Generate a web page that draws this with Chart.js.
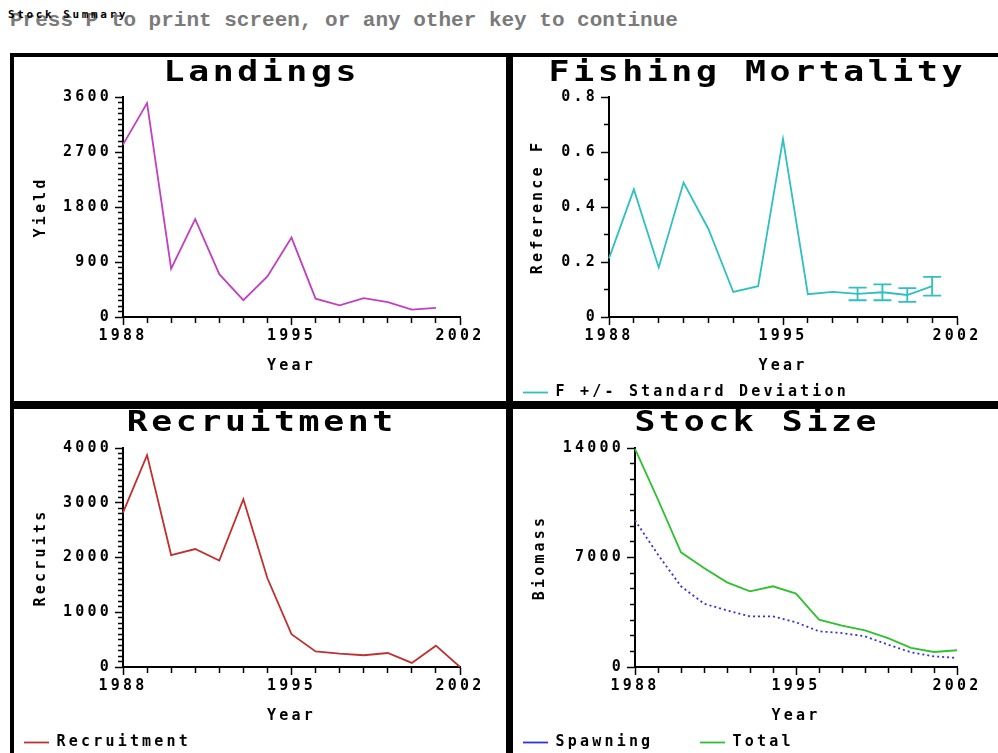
<!DOCTYPE html>
<html>
<head>
<meta charset="utf-8">
<title>Stock Summary</title>
<script src="https://cdn.jsdelivr.net/npm/chart.js@4.4.1/dist/chart.umd.min.js"></script>
<style>
  html, body { margin: 0; padding: 0; background: #fff; }
  body { width: 998px; height: 753px; position: relative; overflow: hidden; }
  #prompt { position: absolute; left: 10px; top: 7px; font: bold 21px/28px 'Liberation Mono', monospace; color: #7a7a7a; white-space: pre; }
  #caption { position: absolute; left: 8px; top: 9px; font: bold 11px/11px 'DejaVu Sans Mono', monospace; letter-spacing: 2.6px; color: #000; white-space: pre; }
  #frame { position: absolute; left: 10px; top: 53px; right: 0; bottom: 0; background: #000; }
  .panel { position: absolute; background: #fff; overflow: hidden; }
  .panel h2 { position: absolute; left: 0; right: 0; top: 0; margin: 0; text-align: center;
              font: bold 29px/29px 'DejaVu Sans Mono', monospace; letter-spacing: 3px; padding-left: 3px;
              transform: scaleX(1.2); transform-origin: center; }
  .panel.low h2 { top: -2px; }
  .panel canvas { position: absolute; left: 0; top: 0; }
</style>
</head>
<body>
<div id="prompt">Press P to print screen, or any other key to continue</div>
<div id="caption">Stock Summary</div>
<div id="frame"></div>

<div class="panel" style="left:14px; top:57px; width:492px; height:344px;">
  <canvas id="landings" width="492" height="344"></canvas>
  <h2>Landings</h2>
</div>
<div class="panel" style="left:513px; top:57px; width:485px; height:344px;">
  <canvas id="mortality" width="485" height="344"></canvas>
  <h2>Fishing Mortality</h2>
</div>
<div class="panel low" style="left:14px; top:409px; width:492px; height:344px;">
  <canvas id="recruitment" width="492" height="344"></canvas>
  <h2>Recruitment</h2>
</div>
<div class="panel low" style="left:513px; top:409px; width:485px; height:344px;">
  <canvas id="stock" width="485" height="344"></canvas>
  <h2>Stock Size</h2>
</div>

<script>
// === DATA ===
const years         = [1988, 1989, 1990, 1991, 1992, 1993, 1994, 1995, 1996, 1997, 1998, 1999, 2000, 2001, 2002];
const yearTicks     = [1988, 1995, 2002];

const landings      = [2820, 3500, 790, 1600, 700, 275, 665, 1300, 300, 190, 310, 245, 120, 150, null];
const landingsTicks = [0, 900, 1800, 2700, 3600];

const fishingF      = [0.213, 0.464, 0.18, 0.489, 0.32, 0.091, 0.112, 0.647, 0.083, 0.091, 0.084, 0.09, 0.08, 0.112, null];
const fishingSD     = [null, null, null, null, null, null, null, null, null, null, 0.023, 0.029, 0.025, 0.034, null];
const fTicks        = [0, 0.2, 0.4, 0.6, 0.8];

const recruits      = [2820, 3870, 2045, 2155, 1945, 3065, 1620, 600, 285, 245, 215, 255, 75, 390, 0];
const recruitTicks  = [0, 1000, 2000, 3000, 4000];

const spawningBiomass = [9380, 7180, 5160, 4050, 3620, 3240, 3240, 2860, 2280, 2170, 1960, 1430, 940, 680, 580];
const totalBiomass    = [13950, 10700, 7330, 6330, 5410, 4840, 5160, 4690, 3030, 2640, 2340, 1850, 1220, 960, 1070];
const biomassTicks    = [0, 7000, 14000];

// === SHARED LOOK ===
Chart.defaults.font.family = "'DejaVu Sans Mono', monospace";
Chart.defaults.font.size = 15;
Chart.defaults.font.weight = 'bold';
Chart.defaults.color = '#000';
Chart.defaults.animation = false;

const LETTER_SPACING = '3.2px';

// wide DOS-style lettering; canvas state is reset on resize so set it every pass
const wideText = {
  id: 'wideText',
  beforeLayout(chart) { chart.ctx.letterSpacing = LETTER_SPACING; },
  beforeDraw(chart)   { chart.ctx.letterSpacing = LETTER_SPACING; }
};

// +/- standard deviation whiskers on the first dataset
const errorBars = {
  id: 'errorBars',
  afterDatasetsDraw(chart, args, opts) {
    const {ctx, scales: {x, y}} = chart;
    const values = chart.data.datasets[0].data;
    ctx.save();
    ctx.strokeStyle = opts.color;
    ctx.lineWidth = 1.8;
    opts.sd.forEach((sd, i) => {
      if (sd == null) return;
      const px  = x.getPixelForValue(i);
      const top = y.getPixelForValue(values[i] + sd);
      const bot = y.getPixelForValue(values[i] - sd);
      ctx.beginPath();
      ctx.moveTo(px, top);     ctx.lineTo(px, bot);
      ctx.moveTo(px - 9, top); ctx.lineTo(px + 9, top);
      ctx.moveTo(px - 9, bot); ctx.lineTo(px + 9, bot);
      ctx.stroke();
    });
    ctx.restore();
  }
};

const near = (a, b) => Math.abs(a - b) < 1e-6;

// x axis: a tick every year, long ticks + labels only on 1988/1995/2002
function yearAxis() {
  const major = i => yearTicks.includes(years[i]);
  return {
    type: 'category',
    offset: false,
    title: { display: true, text: 'Year', padding: 0 },
    border: { display: true, color: '#000', width: 2 },
    grid: {
      drawOnChartArea: false, color: '#000', tickLength: 8, tickWidth: 1.5,
      tickBorderDash: c => major(c.index) ? [] : [5, 3]
    },
    ticks: {
      autoSkip: false, maxRotation: 0, padding: 2,
      callback: (v, i) => major(i) ? String(years[i]) : ''
    },
    afterFit: s => { s.height = 58; }
  };
}

// y axis: minor ticks every `minor`, long ticks + labels on the tick list
function valueAxis(text, ticks, minor, format, width, titlePad) {
  const major = v => ticks.some(t => near(t, v));
  return {
    min: 0,
    max: ticks[ticks.length - 1],
    title: { display: true, text, padding: { top: titlePad, bottom: 0 } },
    border: { display: true, color: '#000', width: 2 },
    grid: {
      drawOnChartArea: false, color: '#000', tickLength: 8, tickWidth: 1.5,
      tickBorderDash: c => major(c.tick.value) ? [] : [5, 3],
      tickBorderDashOffset: c => major(c.tick.value) ? 0 : 5
    },
    ticks: {
      stepSize: minor, autoSkip: false, padding: 3,
      callback: v => major(v) ? format(v) : ''
    },
    afterFit: s => { s.width = width; }
  };
}

function lineSet(label, data, color, dash) {
  return {
    label, data,
    borderColor: color, backgroundColor: color,
    borderWidth: 1.8, borderDash: dash || [],
    pointRadius: 0, tension: 0, fill: false
  };
}

function legendOpts(extra) {
  return Object.assign({
    display: true, position: 'bottom', align: 'start',
    labels: { usePointStyle: true, pointStyle: 'line', pointStyleWidth: 25, padding: 10 }
  }, extra || {});
}

// === LANDINGS ===
new Chart(document.getElementById('landings'), {
  type: 'line',
  data: { labels: years, datasets: [lineSet('Landings', landings, '#c040c0')] },
  options: {
    responsive: false,
    layout: { padding: { left: 0, top: 40, right: 46, bottom: 26 } },
    scales: {
      x: yearAxis(),
      y: valueAxis('Yield', landingsTicks, 90, v => String(v), 109, 18)
    },
    plugins: { legend: { display: false }, tooltip: { enabled: false } }
  },
  plugins: [wideText]
});

// === FISHING MORTALITY ===
new Chart(document.getElementById('mortality'), {
  type: 'line',
  data: { labels: years, datasets: [lineSet('F +/- Standard Deviation', fishingF, '#30c0c0')] },
  options: {
    responsive: false,
    layout: { padding: { left: 0, top: 40, right: 41, bottom: -9 } },
    scales: {
      x: yearAxis(),
      y: valueAxis('Reference F', fTicks, 0.1, v => v === 0 ? '0' : v.toFixed(1), 96, 16)
    },
    plugins: {
      legend: legendOpts(),
      tooltip: { enabled: false },
      errorBars: { sd: fishingSD, color: '#30c0c0' }
    }
  },
  plugins: [wideText, errorBars]
});

// === RECRUITMENT ===
new Chart(document.getElementById('recruitment'), {
  type: 'line',
  data: { labels: years, datasets: [lineSet('Recruitment', recruits, '#c03030')] },
  options: {
    responsive: false,
    layout: { padding: { left: 0, top: 39, right: 46, bottom: -7 } },
    scales: {
      x: yearAxis(),
      y: valueAxis('Recruits', recruitTicks, 100, v => String(v), 109, 18)
    },
    plugins: { legend: legendOpts(), tooltip: { enabled: false } }
  },
  plugins: [wideText]
});

// === STOCK SIZE ===
new Chart(document.getElementById('stock'), {
  type: 'line',
  data: {
    labels: years,
    datasets: [
      lineSet('Spawning', spawningBiomass, '#3030e0', [2, 3]),
      lineSet('Total', totalBiomass, '#30c030')
    ]
  },
  options: {
    responsive: false,
    layout: { padding: { left: 0, top: 39, right: 41, bottom: -7 } },
    scales: {
      x: yearAxis(),
      y: valueAxis('Biomass', biomassTicks, 1000, v => String(v), 122, 18)
    },
    plugins: {
      legend: legendOpts({
        labels: {
          usePointStyle: true, pointStyle: 'line', pointStyleWidth: 25, padding: 10,
          // the original screen leaves a wide gap before "Total"
          generateLabels: chart => Chart.defaults.plugins.legend.labels.generateLabels(chart)
            .map((l, i) => i === 0 ? Object.assign(l, { text: l.text.padEnd(11) }) : l)
        }
      }),
      tooltip: { enabled: false }
    }
  },
  plugins: [wideText]
});
</script>
</body>
</html>
